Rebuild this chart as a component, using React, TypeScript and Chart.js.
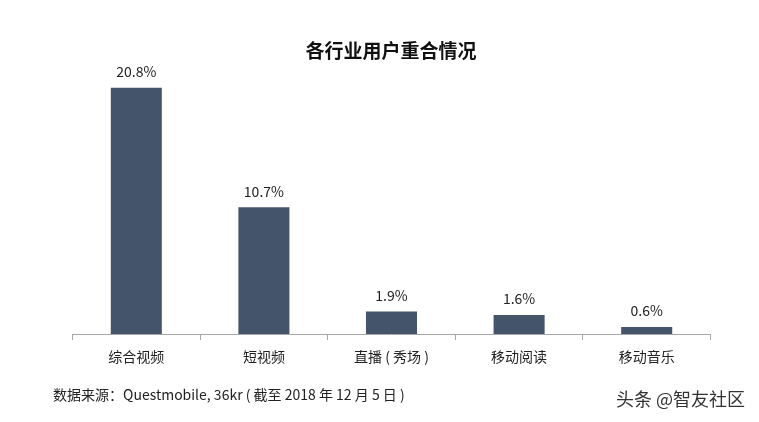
import React, { useEffect, useRef } from "react";
import { Chart, registerables } from "chart.js";

Chart.register(...registerables);

const categories = ["综合视频", "短视频", "直播 ( 秀场 )", "移动阅读", "移动音乐"];
const overlapValues = [20.8, 10.7, 1.9, 1.6, 0.6];
const valueLabels = ["20.8%", "10.7%", "1.9%", "1.6%", "0.6%"];
const titleText = "各行业用户重合情况";
const sourceText = "数据来源：Questmobile, 36kr ( 截至 2018 年 12 月 5 日 )";
const watermarkText = "头条 @智友社区";

const CJK = '"Noto Sans CJK SC", "Noto Sans", sans-serif';

export default function App() {
  const ref = useRef<HTMLCanvasElement | null>(null);

  useEffect(() => {
    if (!ref.current) return;
    const textPlugin = {
      id: "texts",
      afterDraw(chart: any) {
        const ctx = chart.ctx;
        ctx.save();
        ctx.fillStyle = "#111";
        ctx.font = `bold 19px ${CJK}`;
        ctx.textAlign = "center";
        ctx.textBaseline = "middle";
        ctx.fillText(titleText, 391, 51);
        const meta = chart.getDatasetMeta(0);
        ctx.font = `14px ${CJK}`;
        ctx.fillStyle = "#222";
        meta.data.forEach((bar: any, i: number) => {
          ctx.fillText(valueLabels[i], bar.x, bar.y - 16);
        });
        ctx.textAlign = "left";
        ctx.font = `14px ${CJK}`;
        ctx.fillStyle = "#222";
        ctx.fillText(sourceText, 53, 395);
        ctx.textAlign = "right";
        ctx.font = `18px ${CJK}`;
        ctx.fillStyle = "#333";
        ctx.fillText(watermarkText, 745, 399);
        ctx.restore();
      },
    };
    const chart = new Chart(ref.current, {
      type: "bar",
      data: {
        labels: categories,
        datasets: [
          {
            data: overlapValues,
            backgroundColor: "#44546a",
            barPercentage: 0.4,
            categoryPercentage: 1,
          },
        ],
      },
      options: {
        animation: false,
        responsive: false,
        devicePixelRatio: 1,
        layout: { padding: { left: 72.5, right: 48.5, top: 73.5, bottom: 48 } },
        plugins: {
          legend: { display: false },
          tooltip: { enabled: false },
          title: { display: false },
        },
        scales: {
          y: { display: false, min: 0, max: 22 },
          x: {
            afterFit: (axis: any) => {
              axis.height = 40;
            },
            border: { display: true, color: "#a6a6a6", width: 1 },
            grid: {
              offset: true,
              drawOnChartArea: false,
              drawTicks: true,
              tickLength: 6,
              color: "#a6a6a6",
            },
            ticks: {
              color: "#222",
              font: { family: CJK, size: 14 },
              padding: 8,
              maxRotation: 0,
            },
          },
        },
      },
      plugins: [textPlugin],
    });
    return () => chart.destroy();
  }, []);

  return (
    <div style={{ position: "fixed", left: 0, top: 0, width: 759, height: 422, background: "#fff" }}>
      <canvas ref={ref} width={759} height={422} style={{ width: 759, height: 422, display: "block" }} />
    </div>
  );
}
